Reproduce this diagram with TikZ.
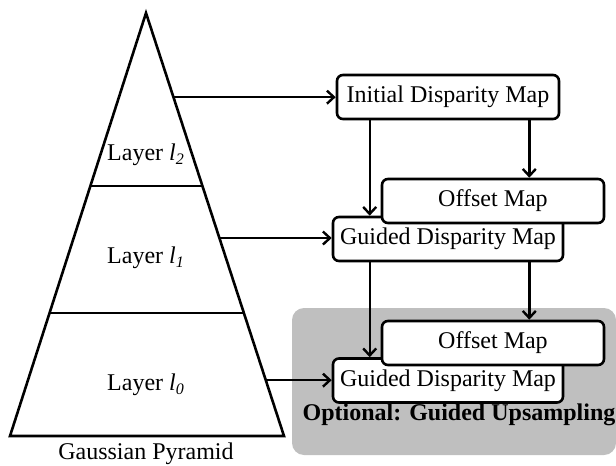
\documentclass[tikz,border=0pt]{standalone}
\usepackage{fontspec}
\setmainfont{Liberation Serif}
\usepackage{tikz}
\usetikzlibrary{calc, arrows.meta, positioning}

\begin{document}
\begin{tikzpicture}[
            x=0.5pt, y=-0.5pt,
            % Estilos de las cajas y flechas
            mapbox/.style={rectangle, rounded corners=3pt, draw=black, line width=1.3pt, fill=white, minimum width=111pt, minimum height=22pt, inner sep=1pt, font=\fontsize{12}{14}\selectfont},
            guidedbox/.style={mapbox, minimum width=115pt},
            arrow/.style={line width=1.2pt, ->, >={Straight Barb[length=3.5pt, width=6.5pt]}, draw=black},
            layerlabel/.style={font=\fontsize{12}{14}\selectfont}
            ]

            \useasboundingbox (0,0) rectangle (616,466);

            % Zona opcional
            \fill[gray!50, rounded corners=6pt] (292,308) rectangle (616,455);
            \node (optlabel) [font=\fontsize{12}{14}\selectfont\bfseries] at (459,415) {Optional: Guided Upsampling};

            % Pirámide
            \coordinate (apex) at (146,13);
            \coordinate (bl) at (10,436);
            \coordinate (br) at (284,436);
            \draw[line width=1.3pt, line join=miter] (apex) -- (br) -- (bl) -- cycle;
            \draw[line width=1.3pt] ($(apex)!0.409!(bl)$) -- ($(apex)!0.409!(br)$);
            \draw[line width=1.3pt] ($(apex)!0.709!(bl)$) -- ($(apex)!0.709!(br)$);
            \coordinate (e2) at ($(apex)!0.199!(br)$);
            \coordinate (e1) at ($(apex)!0.532!(br)$);
            \coordinate (e0) at ($(apex)!0.868!(br)$);

            \node (l2) [layerlabel] at (146,155) {Layer \textit{l}\textsubscript{\textit{2}}};
            \node (l1) [layerlabel] at (146,258) {Layer \textit{l}\textsubscript{\textit{1}}};
            \node (l0) [layerlabel] at (146,385) {Layer \textit{l}\textsubscript{\textit{0}}};
            \node (pyr) [layerlabel] at (146,454) {Gaussian Pyramid};

            % Nodos
            \node (init) [mapbox] at (448,97) {Initial Disparity Map};
            \node (guided1) [guidedbox] at (448,239) {Guided Disparity Map};
            \node (offset1) [mapbox] at (493,201) {Offset Map};
            \node (guided2) [guidedbox] at (448,380.5) {Guided Disparity Map};
            \node (offset2) [mapbox] at (493,343) {Offset Map};

            % Conexiones desde la pirámide
            \draw [arrow] (e2) -- (e2 -| init.west);
            \draw [arrow] (e1) -- (e1 -| guided1.west);
            \draw [arrow] (e0) -- (e0 -| guided2.west);

            % Conexiones verticales
            \draw [arrow] ([xshift=17pt]init.south west) -- ([xshift=17pt]init.south west |- guided1.north);
            \draw [arrow] ([xshift=-15.5pt]init.south east) -- ([xshift=-15.5pt]init.south east |- offset1.north);
            \draw [arrow] ([xshift=19pt]guided1.south west) -- ([xshift=19pt]guided1.south west |- guided2.north);
            \draw [arrow] ([xshift=-17.5pt]guided1.south east) -- ([xshift=-17.5pt]guided1.south east |- offset2.north);

        \end{tikzpicture}
\end{document}
